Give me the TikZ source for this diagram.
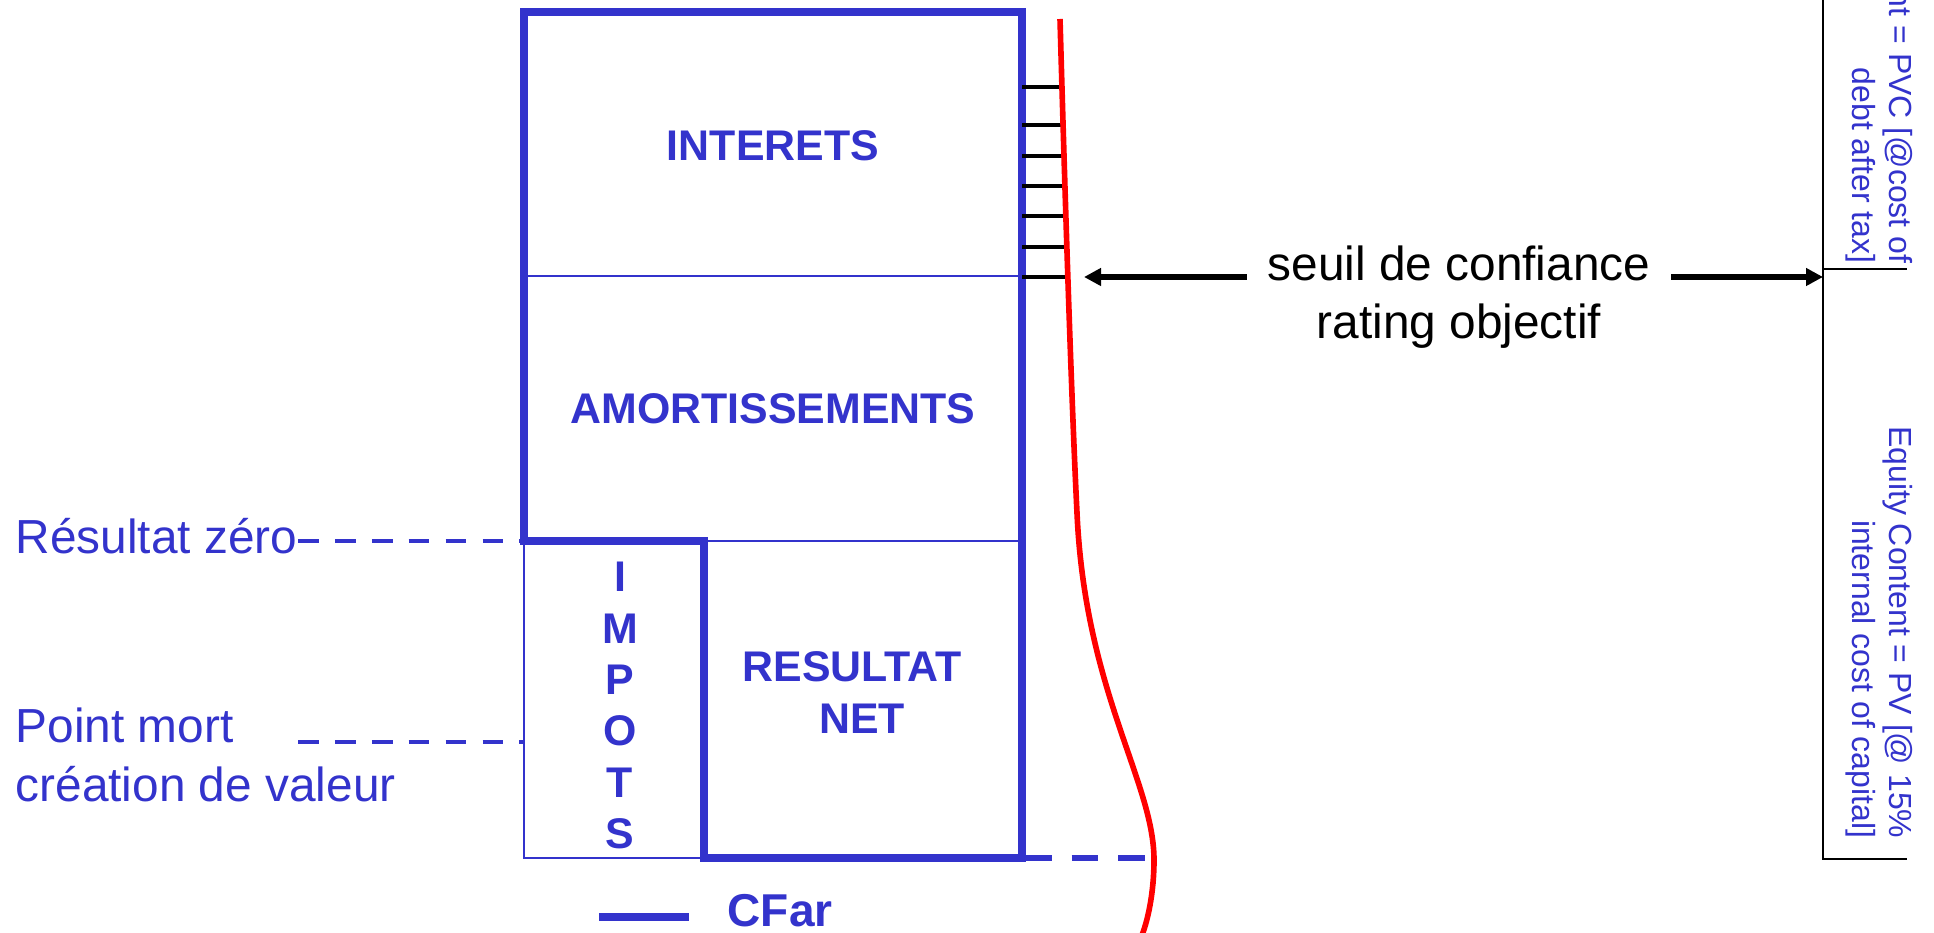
\documentclass[tikz,border=0pt]{standalone}
\usepackage{fontspec}
\setmainfont{Liberation Sans}
\usepackage{tikz}
\usetikzlibrary{arrows.meta}

\definecolor{pptblue}{RGB}{51,51,204}

\tikzset{
    thickblue/.style={color=pptblue, line width=2.1pt},
    thinblue/.style={color=pptblue, line width=0.6pt},
    boxlabel/.style={color=pptblue, font=\fontsize{12.2}{14.6}\selectfont\bfseries, inner sep=0pt, align=center},
    sidelabel/.style={color=pptblue, font=\fontsize{13.6}{16.8}\selectfont, inner sep=0pt, align=left},
    sidedash/.style={color=pptblue, line width=1.3pt, dash pattern=on 0.207cm off 0.162cm},
    vlabel/.style={color=pptblue, font=\fontsize{9.1}{10.7}\selectfont, inner sep=0pt, align=right, rotate=-90, anchor=north east},
    bigarrow/.style={line width=1.85pt, -{Triangle[length=0.17cm,width=0.17cm]}},
}

\begin{document}
\begin{tikzpicture}
        \useasboundingbox (0,0) rectangle (19.34,9.32);

        \coordinate (tl) at (5.24,9.20);
        \coordinate (tr) at (10.22,9.20);
        \coordinate (br) at (10.22,0.74);
        \coordinate (bm) at (7.04,0.74);
        \coordinate (bl) at (5.24,0.74);
        \coordinate (zl) at (5.24,3.91);
        \coordinate (zm) at (7.04,3.91);
        \coordinate (zr) at (10.22,3.91);
        \coordinate (pm) at (5.24,1.90);

        \draw[thinblue] (5.24,6.56) -- (10.22,6.56);
        \draw[thinblue] (zm) -- (zr);
        \draw[thinblue] (zl) -- (bl) -- (bm);
        \draw[thickblue] (zl) -- (tl) -- (tr) -- (br) -- (bm) -- (zm) -- cycle;

        \node[boxlabel] (interets) at (7.73,7.86) {INTERETS};
        \node[boxlabel] (amort) at (7.73,5.23) {AMORTISSEMENTS};
        \node[boxlabel] (impots) at (6.20,2.265) {I\\M\\P\\O\\T\\S};
        \node[boxlabel] (resnet) at (8.52,2.395) {RESULTAT\\\hspace*{0.2cm}NET};

        \node[sidelabel, anchor=base west] (rzero) at (0.15,3.79) {Résultat zéro};
        \node[sidelabel, anchor=north west] (pmort) at (0.15,2.25) {Point mort\\création de valeur};
        \draw[sidedash] (rzero.east |- zl) -- (zl);
        \draw[sidedash] (rzero.east |- pm) -- (pm);

        \draw[color=pptblue, line width=1.8pt, dash pattern=on 0.267cm off 0.2cm] ([xshift=0.03cm]br) -- (11.46,0.74);

        \foreach \y in {8.45,8.07,7.76,7.46,7.16,6.85,6.55}{
            \pgfmathsetmacro{\xend}{10.605+(9.13-\y)*0.022}
            \draw[line width=1.15pt] (10.22,\y) -- (\xend,\y);
        }

        \draw[red, line width=1.6pt] (10.60,9.13) .. controls (10.66,7.0) and (10.72,5.2) .. (10.77,4.19)
            .. controls (10.85,2.4) and (11.54,1.5) .. (11.54,0.72)
            .. controls (11.54,0.4) and (11.48,0.1) .. (11.40,-0.08);

        \coordinate (lefttip) at (10.84,6.55);
        \coordinate (righttip) at (18.23,6.55);
        \node[font=\fontsize{13.6}{16.5}\selectfont, align=center, inner xsep=0.2cm, inner ysep=0pt, anchor=north] (seuil) at (14.59,6.87) {seuil de confiance\\rating objectif};
        \draw[bigarrow] (seuil.west |- lefttip) -- (lefttip);
        \draw[bigarrow] (seuil.east |- righttip) -- (righttip);

        \draw[line width=0.77pt] (18.23,9.40) -- (18.23,0.73) -- (19.07,0.73);
        \draw[line width=0.77pt] (18.23,6.63) -- (19.07,6.63);
        \node[vlabel] (debt) at (19.135,6.68) {nt = PVC [@cost of\\debt after tax]};
        \node[vlabel] (equity) at (19.135,0.93) {Equity Content = PV [@ 15\%\\internal cost of capital]};

        \node[color=pptblue, font=\fontsize{13.1}{15}\selectfont\bfseries, inner sep=0pt, anchor=base west] (cfar) at (7.27,0.06) {CFar};
        \coordinate (cfarline) at (5.99,0.15);
        \draw[color=pptblue, line width=2.3pt] (cfarline) -- ++(0.9,0);

\end{tikzpicture}
\end{document}
